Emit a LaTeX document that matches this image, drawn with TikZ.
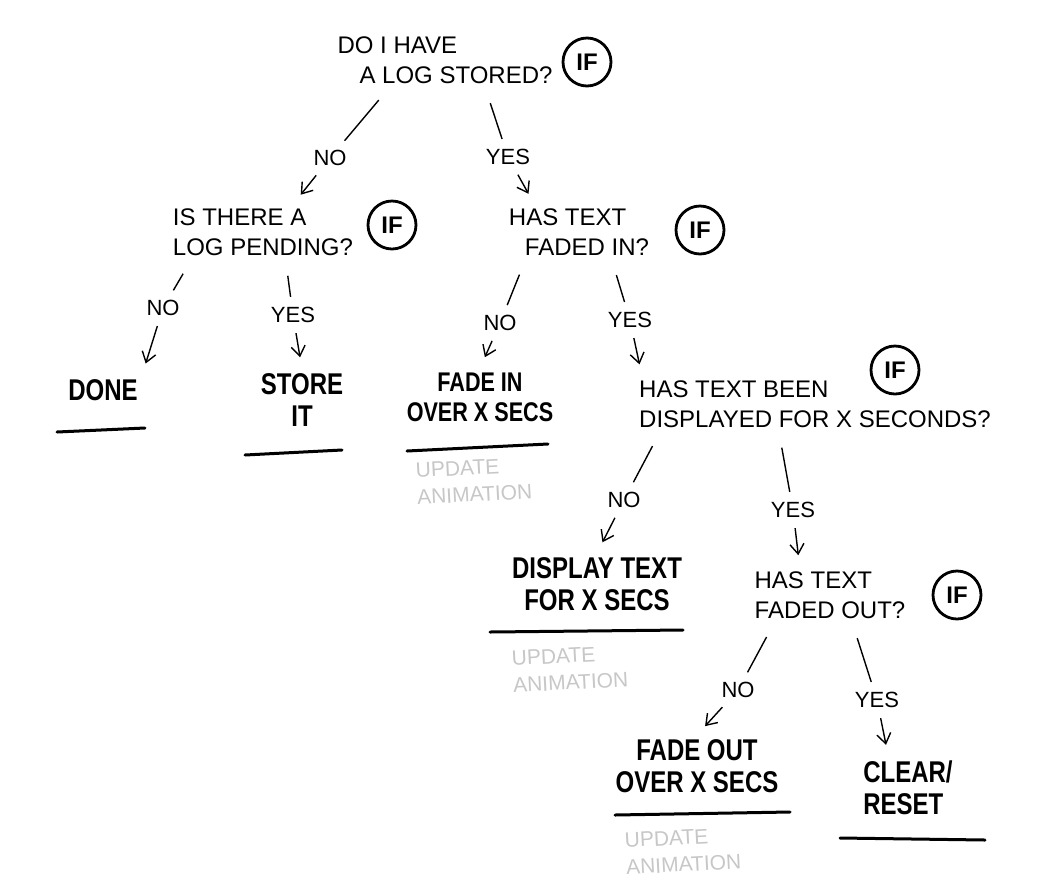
\documentclass[tikz,border=0pt]{standalone}
\usepackage{fontspec}
\setmainfont{Liberation Sans}
\newfontfamily\actfont[FakeStretch=0.8]{Liberation Sans}
\usepackage{tikz}
\usetikzlibrary{positioning,arrows.meta,calc}
\definecolor{animgray}{gray}{0.78}
\tikzset{
  >={Straight Barb[length=5pt,width=7pt]},
  ask/.style={font=\fontsize{12}{15}\selectfont,align=left,inner sep=2pt},
  ifmark/.style={circle,draw,line width=1.4pt,minimum size=24pt,inner sep=0pt,
    font=\bfseries\fontsize{12}{12}\selectfont},
  act/.style={font=\actfont\bfseries\fontsize{15}{16}\selectfont,align=center,
    inner sep=2pt},
  branch/.style={font=\fontsize{11}{11}\selectfont,inner sep=3pt},
  stroke/.style={line width=0.7pt,shorten <=8pt,shorten >=2pt},
  pointer/.style={->,line width=0.7pt,shorten <=2pt,shorten >=6pt},
  rule/.style={line width=1.5pt,line cap=round},
  anim/.style={font=\fontsize{10.5}{13.5}\selectfont,text=animgray,align=left,
    rotate=3,inner sep=0pt},
}
\begin{document}
\begin{tikzpicture}[x=0.5pt,y=-0.5pt]
  \useasboundingbox (0,0) rectangle (1050,885);
  % questions
  \node[ask] (q1) at (445,60) {DO I HAVE\\\hspace*{11pt}A LOG STORED?};
  \node[ask] (q2) at (263,232) {IS THERE A\\LOG PENDING?};
  \node[ask] (q3) at (579,232) {HAS TEXT\\\hspace*{8pt}FADED IN?};
  \node[ask] (q4) at (815,404) {HAS TEXT BEEN\\DISPLAYED FOR X SECONDS?};
  \node[ask] (q5) at (830,595) {HAS TEXT\\FADED OUT?};
  \node[ifmark] (if1) at (587,62) {IF};
  \node[ifmark] (if2) at (392,225) {IF};
  \node[ifmark] (if3) at (700,230) {IF};
  \node[ifmark] (if4) at (895,370) {IF};
  \node[ifmark] (if5) at (957,595) {IF};
  % outcomes
  \node[act] (done) at (103,390) {DONE};
  \node[act] (store) at (302,400) {STORE\\IT};
  \node[act,font=\actfont\bfseries\fontsize{13.5}{15}\selectfont] (fadein)
    at (480,397) {FADE IN\\OVER X SECS};
  \node[act] (display) at (597,584) {DISPLAY TEXT\\FOR X SECS};
  \node[act] (fadeout) at (697,766) {FADE OUT\\OVER X SECS};
  \node[act,align=left] (clear) at (908,788) {CLEAR/\\RESET};
  % branch labels
  \node[branch] (n1) at (330,158) {NO};
  \node[branch] (y1) at (508,157) {YES};
  \node[branch] (n2) at (163,308) {NO};
  \node[branch] (y2) at (293,315) {YES};
  \node[branch] (n3) at (500,323) {NO};
  \node[branch] (y3) at (630,320) {YES};
  \node[branch] (n4) at (624,500) {NO};
  \node[branch] (y4) at (793,510) {YES};
  \node[branch] (n5) at (738,690) {NO};
  \node[branch] (y5) at (877,700) {YES};
  % branches
  \draw[stroke] ($(q1.south west)!.25!(q1.south east)$) -- (n1);
  \draw[pointer] (n1) -- ($(q2.north west)!.66!(q2.north east)$);
  \draw[stroke] ($(q1.south west)!.68!(q1.south east)$) -- (y1);
  \draw[pointer] (y1) -- ($(q3.north west)!.2!(q3.north east)$);
  \draw[stroke] ($(q2.south west)!.12!(q2.south east)$) -- (n2);
  \draw[pointer] (n2) -- (done.north east);
  \draw[stroke] ($(q2.south west)!.62!(q2.south east)$) -- (y2);
  \draw[pointer] (y2) -- (store.north);
  \draw[stroke] ($(q3.south west)!.14!(q3.south east)$) -- (n3);
  \draw[pointer] (n3) -- (fadein.north);
  \draw[stroke] ($(q3.south west)!.72!(q3.south east)$) -- (y3);
  \draw[pointer] (y3) -- ($(q4.north west)!.02!(q4.north east)$);
  \draw[stroke] ($(q4.south west)!.07!(q4.south east)$) -- (n4);
  \draw[pointer] (n4) -- (display.north);
  \draw[stroke] ($(q4.south west)!.4!(q4.south east)$) -- (y4);
  \draw[pointer] (y4) -- ($(q5.north west)!.31!(q5.north east)$);
  \draw[stroke] ($(q5.south west)!.15!(q5.south east)$) -- (n5);
  \draw[pointer] (n5) -- (fadeout.north);
  \draw[stroke] ($(q5.south west)!.64!(q5.south east)$) -- (y5);
  \draw[pointer] (y5) -- ($(clear.north west)!.3!(clear.north east)$);
  % underlines
  \draw[rule] (57,432) -- (145,428);
  \draw[rule] (245,455) -- (342,450);
  \draw[rule] (407,451) -- (548,444);
  \draw[rule] (490,632) -- (683,630);
  \draw[rule] (615,815) -- (790,812);
  \draw[rule] (840,838) -- (985,840);
  % animation notes
  \node[anim] (a1) at (474,481) {UPDATE\\ANIMATION};
  \node[anim] (a2) at (570,669) {UPDATE\\ANIMATION};
  \node[anim] (a3) at (683,851) {UPDATE\\ANIMATION};
\end{tikzpicture}
\end{document}
